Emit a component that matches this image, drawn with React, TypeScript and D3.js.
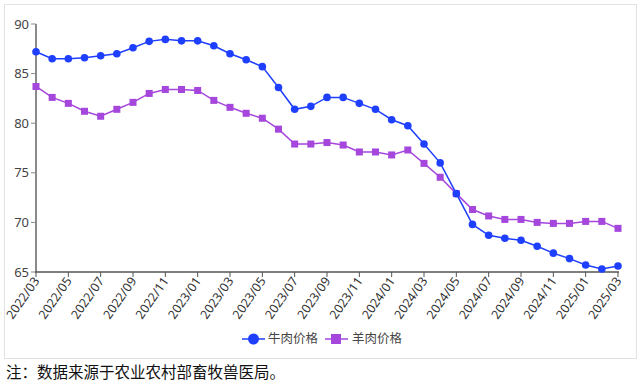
import React from "react";
import * as d3 from "d3";

const months = [
  "2022/03", "2022/04", "2022/05", "2022/06", "2022/07", "2022/08", "2022/09", "2022/10", "2022/11", "2022/12",
  "2023/01", "2023/02", "2023/03", "2023/04", "2023/05", "2023/06", "2023/07", "2023/08", "2023/09", "2023/10",
  "2023/11", "2023/12", "2024/01", "2024/02", "2024/03", "2024/04", "2024/05", "2024/06", "2024/07", "2024/08",
  "2024/09", "2024/10", "2024/11", "2024/12", "2025/01", "2025/02", "2025/03",
];

const beef = [
  87.2, 86.5, 86.5, 86.6, 86.8, 87.0, 87.6, 88.25, 88.45, 88.3,
  88.3, 87.8, 87.0, 86.4, 85.7, 83.6, 81.4, 81.7, 82.6, 82.6,
  82.0, 81.4, 80.35, 79.75, 77.9, 76.0, 72.9, 69.8, 68.7, 68.4,
  68.2, 67.6, 66.9, 66.35, 65.7, 65.3, 65.6,
];

const mutton = [
  83.7, 82.6, 82.0, 81.2, 80.7, 81.4, 82.1, 83.0, 83.4, 83.4,
  83.3, 82.3, 81.6, 81.0, 80.5, 79.4, 77.9, 77.9, 78.05, 77.8,
  77.1, 77.1, 76.8, 77.3, 75.95, 74.55, 72.9, 71.3, 70.65, 70.3,
  70.3, 70.0, 69.9, 69.9, 70.1, 70.1, 69.4,
];

const yTicks = [65, 70, 75, 80, 85, 90];
const seriesNames = ["牛肉价格", "羊肉价格"];
const note = "注：数据来源于农业农村部畜牧兽医局。";

const blue = "#1f3fff";
const purple = "#a546dc";
const font = "'Noto Sans', 'Noto Sans CJK SC', sans-serif";

export default function App() {
  const x = d3.scalePoint<string>().domain(months).range([36, 618]);
  const y = d3.scaleLinear().domain([65, 90]).range([272, 24]);
  const line = d3.line<number>()
    .x((_, i) => x(months[i]) as number)
    .y(d => y(d));
  const labelMonths = months.filter((_, i) => i % 2 === 0);

  return (
    <svg width={642} height={384} style={{ position: "absolute", left: 0, top: 0, background: "#fff" }}>
      <rect x={4.5} y={4.5} width={632} height={354} fill="#fff" stroke="#e2e2e2" />

      {/* y axis */}
      <line x1={36} x2={36} y1={y(90)} y2={y(65)} stroke="#8a8a8a" strokeWidth={2} />
      {yTicks.map(t => (
        <g key={t}>
          <line x1={31} x2={36} y1={y(t)} y2={y(t)} stroke="#8a8a8a" />
          <text x={29} y={y(t)} dy="0.35em" textAnchor="end" fontSize={13} fill="#444" fontFamily={font}>{t}</text>
        </g>
      ))}

      {/* x axis */}
      <line x1={35} x2={619} y1={272} y2={272} stroke="#555" strokeWidth={1.5} />
      {labelMonths.map(m => (
        <g key={m}>
          <line x1={x(m)} x2={x(m)} y1={272} y2={277} stroke="#555" />
          <text
            transform={`translate(${(x(m) as number) + 4},${281}) rotate(-55)`}
            textAnchor="end"
            fontSize={12.5}
            fill="#333"
            fontFamily={font}
          >{m}</text>
        </g>
      ))}

      {/* lines */}
      <path d={line(mutton) || ""} fill="none" stroke={purple} strokeWidth={1.5} />
      <path d={line(beef) || ""} fill="none" stroke={blue} strokeWidth={1.5} />
      {mutton.map((v, i) => (
        <rect key={"m" + i} x={(x(months[i]) as number) - 3.5} y={y(v) - 3.5} width={7} height={7} fill={purple} />
      ))}
      {beef.map((v, i) => (
        <circle key={"b" + i} cx={x(months[i])} cy={y(v)} r={3.8} fill={blue} />
      ))}

      {/* legend */}
      <g transform="translate(0,339)">
        <line x1={242} x2={265} y1={0} y2={0} stroke={blue} strokeWidth={1.5} />
        <circle cx={253.5} cy={0} r={5.5} fill={blue} />
        <text x={268} y={0} dy="0.35em" fontSize={12.5} fill="#444" fontFamily={font}>{seriesNames[0]}</text>
        <line x1={325} x2={348} y1={0} y2={0} stroke={purple} strokeWidth={1.5} />
        <rect x={331} y={-5} width={10} height={10} fill={purple} />
        <text x={352} y={0} dy="0.35em" fontSize={12.5} fill="#444" fontFamily={font}>{seriesNames[1]}</text>
      </g>

      <text x={6} y={378} fontSize={15.5} fill="#111" fontFamily="'Noto Sans CJK SC', serif">{note}</text>
    </svg>
  );
}
